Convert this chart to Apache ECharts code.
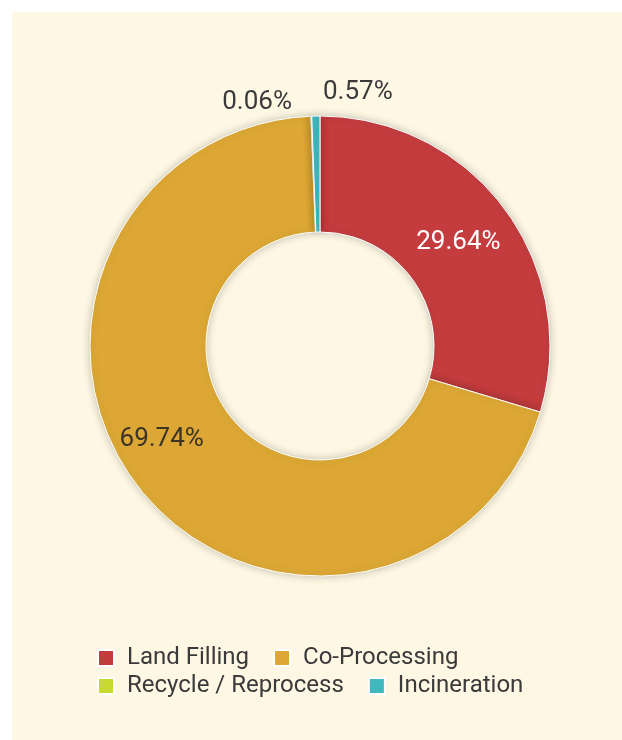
<!DOCTYPE html>
<html>
<head>
<meta charset="utf-8">
<script src="https://cdn.jsdelivr.net/npm/echarts@6/dist/echarts.min.js"></script>
<style>
html,body{margin:0;padding:0;background:#ffffff;}
#chart{width:622px;height:740px;}
</style>
</head>
<body>
<div id="chart"></div>
<script>
const categories = ['Land Filling', 'Co-Processing', 'Recycle / Reprocess', 'Incineration'];
const values = [29.64, 69.74, 0.06, 0.57];
const colors = ['#c43c3e', '#dca734', '#c8da30', '#40b8be'];
const labelColors = ['#ffffff', '#3b3426', '#3a3a3a', '#3a3a3a'];
const labelPositions = ['inside', 'inside', 'outside', 'outside'];
// label nudges (px) relative to the library's default label placement
const labelShift = [[-2, 1], [-20, -14], [-14, -4], [82, -14]];

const chart = echarts.init(document.getElementById('chart'), null, {renderer: 'canvas'});
const font = 'Roboto, "Noto Sans", sans-serif';

const option = {
  backgroundColor: '#ffffff',
  graphic: [{
    type: 'rect', left: 12, top: 12, z: -10,
    shape: {width: 610, height: 728},
    style: {fill: '#fdf7e4'}
  }],
  legend: [
    {
      data: categories.slice(0, 2), left: 97, top: 646, orient: 'horizontal', padding: 0,
      icon: 'rect', itemWidth: 16, itemHeight: 16, itemGap: 24,
      textStyle: {fontFamily: font, fontSize: 24, color: '#3a3a3a', padding: [0, 0, 0, 8]}
    },
    {
      data: categories.slice(2, 4), left: 97, top: 674, orient: 'horizontal', padding: 0,
      icon: 'rect', itemWidth: 16, itemHeight: 16, itemGap: 24,
      textStyle: {fontFamily: font, fontSize: 24, color: '#3a3a3a', padding: [0, 0, 0, 8]}
    }
  ],
  series: [{
    type: 'pie',
    center: [320, 346],
    radius: [114, 230],
    startAngle: 90,
    clockwise: true,
    avoidLabelOverlap: false,
    itemStyle: {borderColor: '#ffffff', borderWidth: 1, shadowBlur: 8, shadowColor: 'rgba(0,0,0,0.22)'},
    emphasis: {disabled: true},
    labelLine: {show: false, length: 10, length2: 0},
    labelLayout: function (p) {
      const s = labelShift[p.dataIndex];
      return {dx: s[0], dy: s[1]};
    },
    data: categories.map((c, i) => ({
      name: c,
      value: values[i],
      itemStyle: {color: colors[i]},
      label: {
        show: true,
        position: labelPositions[i],
        formatter: values[i].toFixed(2) + '%',
        color: labelColors[i],
        fontFamily: font,
        fontSize: 26,
        textBorderWidth: 0
      }
    }))
  }]
};
chart.setOption(option);
</script>
</body>
</html>
